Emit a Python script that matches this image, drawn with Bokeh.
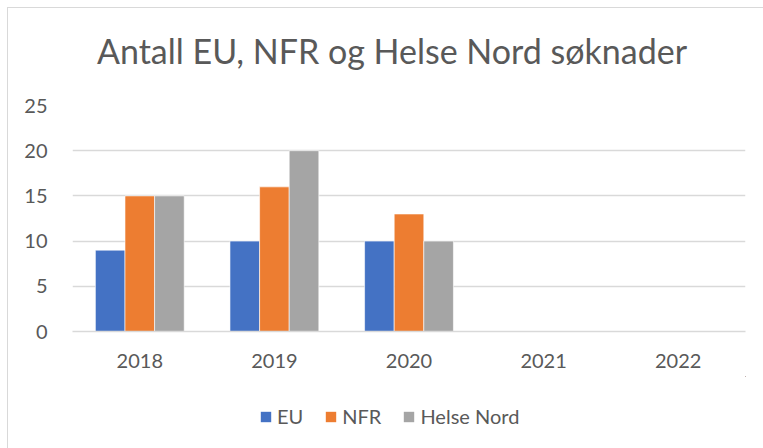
from bokeh.plotting import figure
from bokeh.models import ColumnDataSource, Legend, LegendItem, FactorRange, Range1d, Label
from bokeh.layouts import column
from bokeh.transform import dodge
from bokeh.embed import file_html
from bokeh.resources import INLINE

years = ["2018", "2019", "2020", "2021", "2022"]
eu = [9, 10, 10, 0, 0]
nfr = [15, 16, 13, 0, 0]
helse_nord = [15, 20, 10, 0, 0]
series_names = ["EU", "NFR", "Helse Nord"]
colors = ["#4472C4", "#ED7D31", "#A5A5A5"]
yticks = [0, 5, 10, 15, 20, 25]
title_text = "Antall EU, NFR og Helse Nord søknader"

src = ColumnDataSource(dict(years=years, eu=eu, nfr=nfr, hn=helse_nord))

FONT = "Lato"
TXT = "#595959"

# title panel (its frame is aligned with the chart's frame by the column)
tf = figure(width=755, height=66, output_backend="svg", toolbar_location=None,
            x_axis_type=None, y_axis_type=None, min_border=0,
            x_range=Range1d(72, 745), y_range=Range1d(0, 66),
            outline_line_color=None, background_fill_color="white",
            border_fill_color="white")
tf.grid.visible = False
tf.add_layout(Label(x=391.5, y=24, text=title_text, text_font=FONT,
                    text_font_size="34px", text_color=TXT,
                    text_align="center", text_baseline="alphabetic"))

# main chart
p = figure(x_range=FactorRange(*years, range_padding=0), y_range=(0, 25),
           width=755, height=302, output_backend="svg", toolbar_location=None,
           min_border_left=64, min_border_right=18, min_border_top=31,
           min_border_bottom=45, background_fill_color="white",
           border_fill_color="white", outline_line_color=None)

bw = 0.22
renderers = []
for col, off, c in zip(["eu", "nfr", "hn"], [-bw, 0, bw], colors):
    r = p.vbar(x=dodge("years", off, range=p.x_range), top=col, width=bw,
               source=src, fill_color=c, line_color="white", line_width=0.6)
    renderers.append(r)

p.yaxis.ticker = yticks
p.ygrid.grid_line_color = "#D9D9D9"
p.ygrid.grid_line_width = 1.3
p.xgrid.grid_line_color = None
for ax in (p.xaxis[0], p.yaxis[0]):
    ax.major_tick_line_color = None
    ax.minor_tick_line_color = None
    ax.major_label_text_font = FONT
    ax.major_label_text_font_size = "20px"
    ax.major_label_text_color = TXT
p.yaxis.axis_line_color = None
p.xaxis.axis_line_color = "#D9D9D9"
p.xaxis.axis_line_width = 1.3
p.xaxis.major_label_standoff = 16
p.yaxis.major_label_standoff = 19

# legend panel below the chart (its bars lie outside its visible range)
lf = figure(width=755, height=72, output_backend="svg", toolbar_location=None,
            x_axis_type=None, y_axis_type=None, min_border=0,
            x_range=Range1d(-30, -20), y_range=Range1d(-30, -20),
            outline_line_color=None, background_fill_color="white",
            border_fill_color="white")
lf.grid.visible = False
leg_renderers = []
for col, c in zip(["eu", "nfr", "hn"], colors):
    leg_renderers.append(lf.vbar(x=col, top=col, width=1, source=src,
                                 fill_color=c, line_color=None))

legend = Legend(items=[LegendItem(label=n, renderers=[r]) for n, r in zip(series_names, leg_renderers)],
                orientation="horizontal", location=(187, 20),
                label_text_font=FONT, label_text_font_size="20px",
                label_text_color=TXT, glyph_width=13, glyph_height=13,
                spacing=21, label_standoff=5, padding=0, margin=0,
                border_line_color=None, background_fill_alpha=0)
lf.add_layout(legend, "center")

layout = column(tf, p, lf, spacing=0,
                styles={"margin": "7px 0 0 7px",
                        "border-left": "1px solid #D9D9D9",
                        "border-top": "1px solid #D9D9D9"})

open("out.html", "w").write(file_html(layout, INLINE))
